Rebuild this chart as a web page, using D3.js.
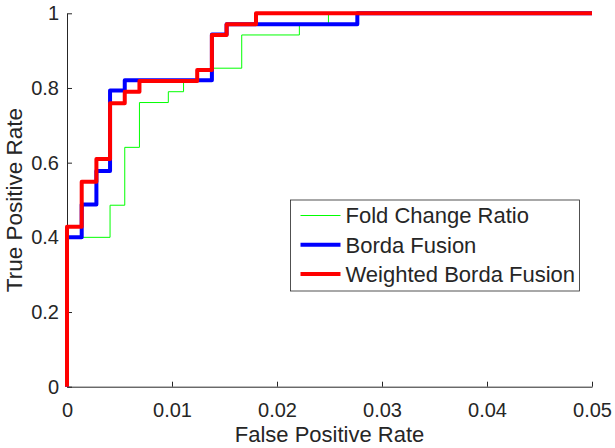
<!DOCTYPE html>
<html>
<head>
<meta charset="utf-8">
<script src="https://cdn.jsdelivr.net/npm/d3@7"></script>
<style>
  body { margin: 0; background: #fff; }
  text { font-family: "Liberation Sans", Arial, sans-serif; fill: #262626; }
</style>
</head>
<body>
<div id="chart"></div>
<script>
// ROC corner points
const foldFpr = [0, 0, 0.0041, 0.0055, 0.0069, 0.00965, 0.0111, 0.0138, 0.01664, 0.02213, 0.0249, 0.05];
const foldTpr = [0, 0.4, 0.486, 0.641, 0.761, 0.79, 0.821, 0.853, 0.942, 0.971, 1, 1];

const bordaFpr = [0, 0, 0.0014, 0.0028, 0.0041, 0.0055, 0.0138, 0.0152, 0.02765, 0.05];
const bordaTpr = [0, 0.4, 0.488, 0.578, 0.793, 0.821, 0.943, 0.971, 1, 1];

const wbordaFpr = [0, 0, 0.0014, 0.0028, 0.0041, 0.0055, 0.0069, 0.0124, 0.0138, 0.0152, 0.018, 0.05];
const wbordaTpr = [0, 0.4286, 0.549, 0.61, 0.759, 0.79, 0.819, 0.848, 0.942, 0.971, 1, 1];

const seriesNames = ["Fold Change Ratio", "Borda Fusion", "Weighted Borda Fusion"];
const xTicks = [0, 0.01, 0.02, 0.03, 0.04, 0.05];
const yTicks = [0, 0.2, 0.4, 0.6, 0.8, 1];

const W = 615, H = 448;
const margin = {top: 13.3, right: 23, bottom: 61.3, left: 67};
const width = W - margin.left - margin.right;
const height = H - margin.top - margin.bottom;

const svg = d3.select("#chart").append("svg")
    .attr("width", W)
    .attr("height", H);

const g = svg.append("g")
    .attr("transform", `translate(${margin.left},${margin.top})`);

const x = d3.scaleLinear().domain([0, 0.05]).range([0, width]);
const y = d3.scaleLinear().domain([0, 1]).range([height, 0]);

// axes (ticks pointing inward, matlab style)
const xAxis = g.append("g")
    .attr("transform", `translate(0,${height})`)
    .call(d3.axisBottom(x).tickValues(xTicks).tickSizeInner(-5).tickSizeOuter(0)
        .tickFormat(d => d === 0 ? "0" : d3.format(".2f")(d)));
xAxis.selectAll("text").attr("dy", "1.35em").style("font-size", "20px");

const yAxis = g.append("g")
    .call(d3.axisLeft(y).tickValues(yTicks).tickSizeInner(-5).tickSizeOuter(0)
        .tickFormat(d => d === 0 || d === 1 ? d3.format("d")(d) : d3.format(".1f")(d)));
yAxis.selectAll("text").attr("x", -8).style("font-size", "20px");

g.selectAll(".domain, .tick line").attr("stroke", "#262626");

g.append("text")
    .attr("x", width / 2)
    .attr("y", height + 55.5)
    .attr("text-anchor", "middle")
    .style("font-size", "22px")
    .text("False Positive Rate");

g.append("text")
    .attr("transform", `translate(${-45},${height / 2}) rotate(-90)`)
    .attr("text-anchor", "middle")
    .style("font-size", "22.5px")
    .text("True Positive Rate");

// lines
const series = [
    {name: seriesNames[0], fpr: foldFpr, tpr: foldTpr, color: "#00ff00", w: 1},
    {name: seriesNames[1], fpr: bordaFpr, tpr: bordaTpr, color: "#0000ff", w: 4},
    {name: seriesNames[2], fpr: wbordaFpr, tpr: wbordaTpr, color: "#ff0000", w: 4}
];

const line = d3.line()
    .x(d => x(d[0]))
    .y(d => y(d[1]))
    .curve(d3.curveStepAfter);

series.forEach(s => {
    g.append("path")
        .datum(s.fpr.map((f, i) => [f, s.tpr[i]]))
        .attr("fill", "none")
        .attr("stroke", s.color)
        .attr("stroke-width", s.w)
        .attr("stroke-linejoin", "round")
        .attr("d", line);
});

// legend
const legend = svg.append("g")
    .attr("transform", "translate(290.5,200)");

legend.append("rect")
    .attr("width", 289)
    .attr("height", 91)
    .attr("fill", "#fff")
    .attr("stroke", "#262626")
    .attr("stroke-width", 0.8);

series.forEach((s, i) => {
    const ly = 15.5 + i * 29.2;
    legend.append("line")
        .attr("x1", 10).attr("x2", 50)
        .attr("y1", ly).attr("y2", ly)
        .attr("stroke", s.color)
        .attr("stroke-width", s.w);
    legend.append("text")
        .attr("x", 55)
        .attr("y", ly)
        .attr("dy", "0.36em")
        .style("font-size", "22px")
        .text(s.name);
});
</script>
</body>
</html>
